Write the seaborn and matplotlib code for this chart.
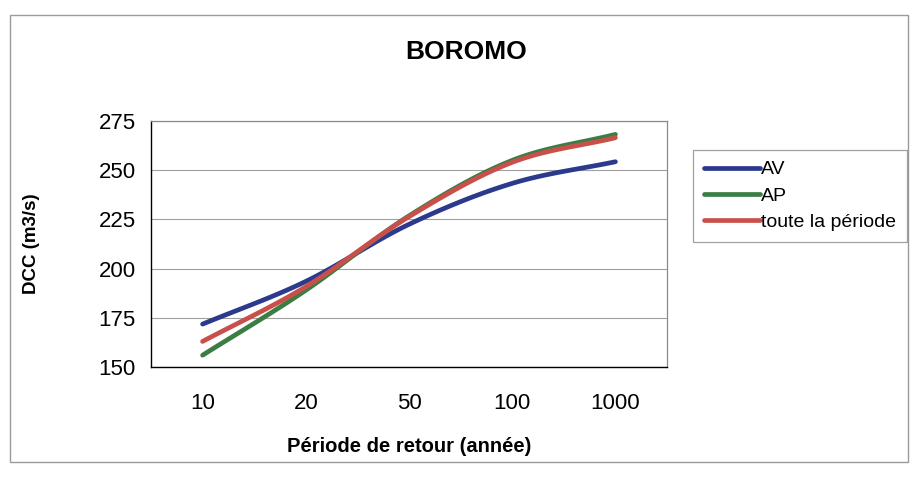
import numpy as np
import pandas as pd
import matplotlib
matplotlib.use("Agg")
import matplotlib.pyplot as plt
from matplotlib.patches import Rectangle
import seaborn as sns

categories = ["10", "20", "50", "100", "1000"]
av = [171.8, 193.5, 222.5, 243.3, 254.3]
ap = [156.0, 189.0, 226.8, 255.0, 268.2]
toute = [163.0, 190.8, 226.4, 254.0, 266.5]
series_names = ["AV", "AP", "toute la période"]
colors = ["#2c3a8e", "#3b7d45", "#c9504a"]

sns.set_theme(style="white")
plt.rcParams['font.family'] = ['Liberation Sans', 'DejaVu Sans']
plt.rcParams['text.color'] = 'black'
plt.rcParams['axes.labelcolor'] = 'black'
plt.rcParams['xtick.color'] = 'black'
plt.rcParams['ytick.color'] = 'black'


def smooth(y, n=30):
    """Catmull-Rom spline through category points (Excel smoothed line)."""
    y = np.asarray(y, float)
    x = np.arange(len(y), dtype=float)
    px = np.concatenate([[2 * x[0] - x[1]], x, [2 * x[-1] - x[-2]]])
    py = np.concatenate([[2 * y[0] - y[1]], y, [2 * y[-1] - y[-2]]])
    xs, ys = [], []
    for i in range(1, len(px) - 2):
        t = np.linspace(0, 1, n, endpoint=(i == len(px) - 3))
        for arr, out in ((px, xs), (py, ys)):
            p0, p1, p2, p3 = arr[i - 1], arr[i], arr[i + 1], arr[i + 2]
            out.append(0.5 * ((2 * p1) + (-p0 + p2) * t
                              + (2 * p0 - 5 * p1 + 4 * p2 - p3) * t ** 2
                              + (-p0 + 3 * p1 - 3 * p2 + p3) * t ** 3))
    return np.concatenate(xs), np.concatenate(ys)


frames = []
for name, vals in zip(series_names, [av, ap, toute]):
    sx, sy = smooth(vals)
    frames.append(pd.DataFrame({"x": sx, "y": sy, "serie": name}))
df = pd.concat(frames, ignore_index=True)

fig = plt.figure(figsize=(9.10, 4.78), dpi=100)
fig.patch.set_facecolor("white")
fig.patches.append(Rectangle((10 / 910, 1 - 462 / 478), 898 / 910, 447 / 478,
                             transform=fig.transFigure, fill=False,
                             edgecolor="#9a9a9a", linewidth=1.0))

ax = fig.add_axes([151 / 910, 1 - 367 / 478, 516 / 910, 246 / 478])
sns.lineplot(data=df, x="x", y="y", hue="serie", hue_order=series_names,
             palette=colors, linewidth=3.4, sort=False, estimator=None,
             ax=ax, legend=False)

ax.set_xlim(-0.5, len(categories) - 0.5)
ax.set_ylim(150, 275)
ax.set_yticks([150, 175, 200, 225, 250, 275])
ax.set_yticklabels(["150", "175", "200", "225", "250", "275"], fontsize=16)
ax.set_xticks(range(len(categories)))
ax.set_xticklabels(categories, fontsize=16)
ax.set_xticks(np.arange(-0.5, len(categories), 1.0), minor=True)
ax.tick_params(axis="x", which="major", length=0, pad=19)
ax.tick_params(axis="x", which="minor", length=5, direction="out", color="black", width=0.8)
ax.tick_params(axis="y", length=5, direction="out", color="black", width=0.8, pad=6)
ax.yaxis.grid(True, color="#a0a0a0", linewidth=0.8)
ax.set_axisbelow(True)
for s in ["left", "bottom"]:
    ax.spines[s].set_color("black")
    ax.spines[s].set_linewidth(1.0)
for s in ["top", "right"]:
    ax.spines[s].set_color("#8a8a8a")
    ax.spines[s].set_linewidth(0.9)

ax.set_xlabel("Période de retour (année)", fontsize=14.5, fontweight="bold", labelpad=16)
ax.set_ylabel("DCC (m3/s)", fontsize=13.5, fontweight="bold", labelpad=42)
fig.text(466 / 910, 1 - 52 / 478, "BOROMO", ha="center", va="center",
         fontsize=19, fontweight="bold")

handles = [plt.Line2D([], [], color=c, linewidth=3.4) for c in colors]
leg = fig.legend(handles, series_names, loc="upper left",
                 bbox_to_anchor=(693 / 910, 1 - 150 / 478), fontsize=14,
                 frameon=True, fancybox=False, handlelength=2.9,
                 handletextpad=0.05, borderpad=0.55, labelspacing=0.45,
                 borderaxespad=0.0)
leg.get_frame().set_edgecolor("#8a8a8a")
leg.get_frame().set_linewidth(0.9)

fig.savefig("out.png", dpi=100, facecolor="white")
